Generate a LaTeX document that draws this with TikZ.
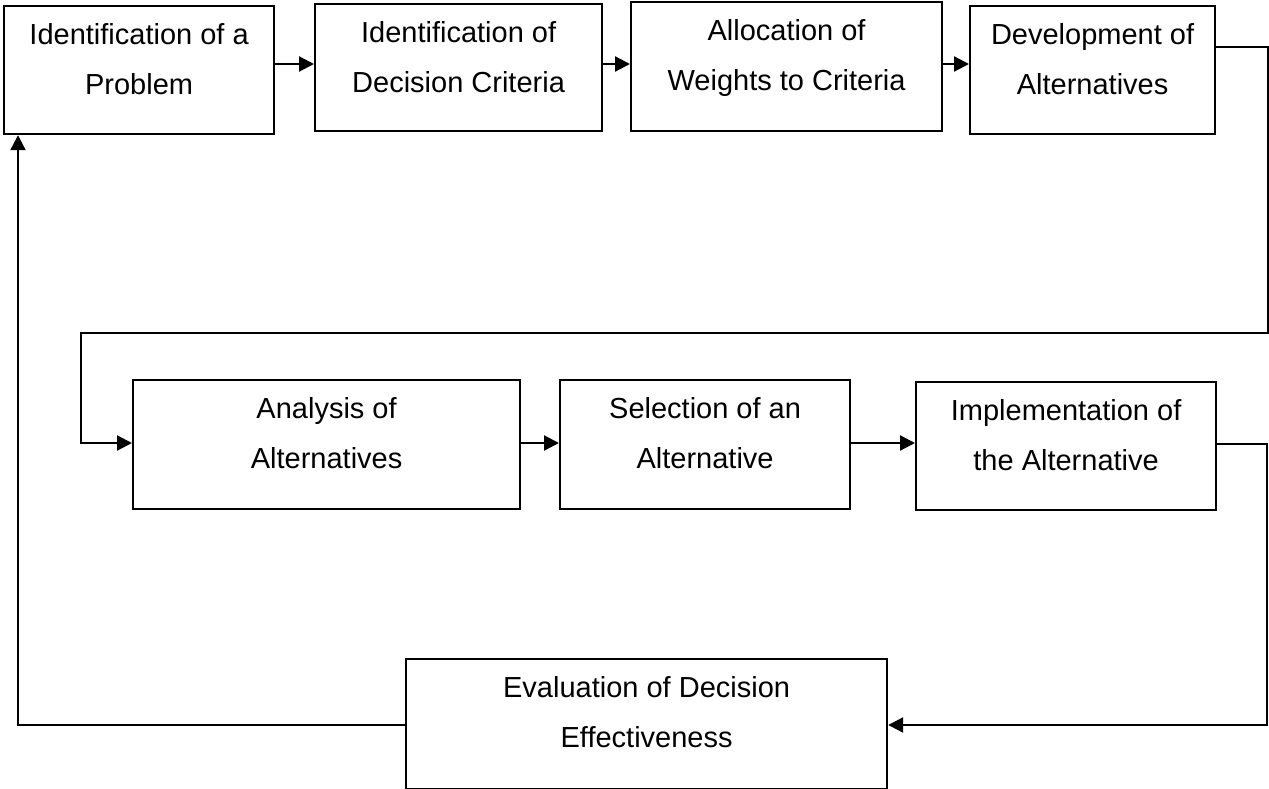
\documentclass[tikz,border=0pt]{standalone}
\usepackage{fontspec}
\setmainfont{Liberation Sans}
\usetikzlibrary{arrows.meta}
\tikzset{
  stepbox/.style={draw, line width=2.2pt, align=center, inner sep=0pt,
    anchor=north west, font=\fontsize{29}{50}\selectfont, text height=88pt},
  link/.style={line width=2.2pt},
  arr/.style={link, -{Triangle[length=15pt,width=15pt]}}
}
\begin{document}
\begin{tikzpicture}[x=1pt, y=-1pt]
  \useasboundingbox (0,0) rectangle (1269,789);

  % first row
  \node[stepbox, minimum width=270pt, text depth=40pt] (b1) at (3,5)
    {Identification of a\\Problem};
  \node[stepbox, minimum width=287pt, text depth=39pt] (b2) at (314,3)
    {Identification of\\Decision Criteria};
  \node[stepbox, minimum width=311pt, text depth=41pt] (b3) at (630,1)
    {Allocation of\\Weights to Criteria};
  \node[stepbox, minimum width=245pt, text depth=40pt] (b4) at (969,5)
    {Development of\\Alternatives};

  % second row
  \node[stepbox, minimum width=387pt, text depth=41pt] (b5) at (132,379)
    {Analysis of\\Alternatives};
  \node[stepbox, minimum width=290pt, text depth=41pt] (b6) at (559,379)
    {Selection of an\\Alternative};
  \node[stepbox, minimum width=300pt, text depth=40pt] (b7) at (915,381)
    {Implementation of\\the Alternative};

  % last step
  \node[stepbox, minimum width=481pt, text depth=42pt] (b8) at (405,658)
    {Evaluation of Decision\\Effectiveness};

  % routing points
  \coordinate (y1) at (0,64);
  \coordinate (y2) at (0,443);
  \coordinate (ra) at (1268,47);
  \coordinate (rb) at (1268,333);
  \coordinate (la) at (81,333);
  \coordinate (lb) at (81,443);
  \coordinate (sa) at (1267,444);
  \coordinate (sb) at (1267,725);
  \coordinate (ta) at (18,725);

  % row connectors
  \draw[arr] (b1.east |- y1) -- (b2.west |- y1);
  \draw[arr] (b2.east |- y1) -- (b3.west |- y1);
  \draw[arr] (b3.east |- y1) -- (b4.west |- y1);
  \draw[arr] (b5.east |- y2) -- (b6.west |- y2);
  \draw[arr] (b6.east |- y2) -- (b7.west |- y2);

  % wrap-around connectors
  \draw[arr] (b4.east |- ra) -- (ra) -- (rb) -- (la) -- (lb) -- (b5.west |- lb);
  \draw[arr] (b7.east |- sa) -- (sa) -- (sb) -- (b8.east |- sb);
  \draw[arr] (b8.west |- ta) -- (ta) -- (ta |- b1.south);
\end{tikzpicture}
\end{document}
